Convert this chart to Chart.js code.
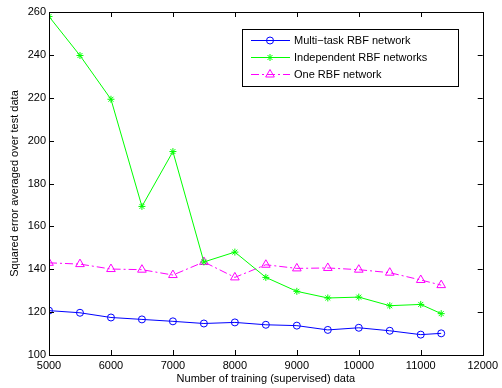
<!DOCTYPE html>
<html>
<head>
<meta charset="utf-8">
<script src="https://cdn.jsdelivr.net/npm/chart.js@4/dist/chart.umd.min.js"></script>
<style>
  html, body { margin: 0; padding: 0; background: #fff; }
  #wrap { width: 502px; height: 388px; }
</style>
</head>
<body>
<div id="wrap"><canvas id="chart" width="502" height="388"></canvas></div>
<script>
// training set sizes
const trainSizes = [5000, 5500, 6000, 6500, 7000, 7500, 8000, 8500, 9000, 9500, 10000, 10500, 11000, 11330];

// squared error per method
const multiTask = [120.7, 119.7, 117.5, 116.6, 115.7, 114.7, 115.2, 114.1, 113.7, 111.7, 112.7, 111.3, 109.5, 110.1];
const independent = [257.9, 239.7, 219.3, 169.3, 194.9, 143.4, 148.0, 136.2, 129.7, 126.6, 127.0, 123.0, 123.6, 119.3];
const oneNet = [143.0, 142.4, 140.1, 139.8, 137.3, 143.4, 136.2, 142.1, 140.4, 140.6, 139.8, 138.4, 135.0, 132.6];

const seriesNames = ["Multi\u2212task RBF network", "Independent RBF networks", "One RBF network"];

const xTicks = [5000, 6000, 7000, 8000, 9000, 10000, 11000, 12000];
const yTicks = [100, 120, 140, 160, 180, 200, 220, 240, 260];

const FONT = "'Liberation Sans', Arial, Helvetica, sans-serif";

function pts(ys) {
    return trainSizes.map((x, i) => ({ x: x, y: ys[i] }));
}

// MATLAB style box, inward ticks and legend
const boxPlugin = {
    id: "box",
    afterDraw(chart) {
        const ctx = chart.ctx;
        const a = chart.chartArea;
        const xs = chart.scales.x, ys = chart.scales.y;
        ctx.save();
        ctx.strokeStyle = "#000";
        ctx.lineWidth = 1;
        ctx.strokeRect(Math.round(a.left) + 0.5, Math.round(a.top) + 0.5,
            Math.round(a.right - a.left), Math.round(a.bottom - a.top));
        ctx.beginPath();
        xTicks.forEach(t => {
            const px = Math.round(xs.getPixelForValue(t)) + 0.5;
            ctx.moveTo(px, a.bottom); ctx.lineTo(px, a.bottom - 5);
            ctx.moveTo(px, a.top); ctx.lineTo(px, a.top + 5);
        });
        yTicks.forEach(t => {
            const py = Math.round(ys.getPixelForValue(t)) + 0.5;
            ctx.moveTo(a.left, py); ctx.lineTo(a.left + 5, py);
            ctx.moveTo(a.right, py); ctx.lineTo(a.right - 5, py);
        });
        ctx.stroke();

        // legend
        const lx = 242, ly = 29, lw = 216, lh = 57;
        ctx.fillStyle = "#fff";
        ctx.fillRect(lx, ly, lw, lh);
        ctx.strokeStyle = "#000";
        ctx.strokeRect(lx + 0.5, ly + 0.5, lw, lh);
        ctx.font = "11px " + FONT;
        ctx.textBaseline = "middle";
        chart.data.datasets.forEach((ds, i) => {
            const yy = ly + 11.5 + i * 17;
            ctx.strokeStyle = ds.borderColor;
            ctx.lineWidth = 1;
            ctx.setLineDash(ds.borderDash || []);
            ctx.beginPath();
            ctx.moveTo(lx + 9, yy); ctx.lineTo(lx + 48, yy);
            ctx.stroke();
            ctx.setLineDash([]);
            ctx.fillStyle = "rgba(0,0,0,0)";
            Chart.helpers.drawPoint(ctx, {
                pointStyle: ds.pointStyle,
                radius: ds.pointRadius,
                borderWidth: 1,
                rotation: 0
            }, lx + 28, yy);
            ctx.fillStyle = "#000";
            ctx.fillText(ds.label, lx + 52, yy);
        });
        ctx.restore();
    }
};

new Chart(document.getElementById("chart"), {
    type: "line",
    data: {
        datasets: [
            {
                label: seriesNames[0], data: pts(multiTask),
                borderColor: "#0000ff", backgroundColor: "rgba(0,0,0,0)",
                borderWidth: 1, pointStyle: "circle", pointRadius: 3.5,
                pointBorderColor: "#0000ff", pointBackgroundColor: "rgba(0,0,0,0)"
            },
            {
                label: seriesNames[1], data: pts(independent),
                borderColor: "#00ff00", backgroundColor: "rgba(0,0,0,0)",
                borderWidth: 1, pointStyle: "star", pointRadius: 3.5,
                pointBorderColor: "#00ff00", pointBackgroundColor: "rgba(0,0,0,0)"
            },
            {
                label: seriesNames[2], data: pts(oneNet),
                borderColor: "#ff00ff", backgroundColor: "rgba(0,0,0,0)",
                borderWidth: 1, borderDash: [8, 3, 2, 3], pointStyle: "triangle", pointRadius: 5,
                pointBorderColor: "#ff00ff", pointBackgroundColor: "rgba(0,0,0,0)"
            }
        ]
    },
    options: {
        responsive: false,
        animation: false,
        layout: { padding: { left: 0, right: 14, top: 12, bottom: 0 } },
        plugins: { legend: { display: false }, tooltip: { enabled: false } },
        scales: {
            x: {
                type: "linear", min: 5000, max: 12000,
                grid: { display: false, drawTicks: false, tickLength: 0 }, border: { display: false },
                afterBuildTicks: s => { s.ticks = xTicks.map(v => ({ value: v })); },
                afterFit: s => { s.height = 33; },
                ticks: { color: "#000", font: { family: FONT, size: 11 }, padding: 4, maxRotation: 0,
                         autoSkip: false, callback: v => String(v) },
                title: { display: true, text: "Number of training (supervised) data", color: "#000",
                         font: { family: FONT, size: 11 }, padding: { top: 0, bottom: 2 } }
            },
            y: {
                min: 100, max: 260,
                grid: { display: false, drawTicks: false, tickLength: 0 }, border: { display: false },
                afterBuildTicks: s => { s.ticks = yTicks.map(v => ({ value: v })); },
                afterFit: s => { s.width = 49; },
                ticks: { color: "#000", font: { family: FONT, size: 11 }, padding: 3, autoSkip: false },
                title: { display: true, text: "Squared error averaged over test data", color: "#000",
                         font: { family: FONT, size: 11 }, padding: { top: 8, bottom: 0 } }
            }
        }
    },
    plugins: [boxPlugin]
});
</script>
</body>
</html>
